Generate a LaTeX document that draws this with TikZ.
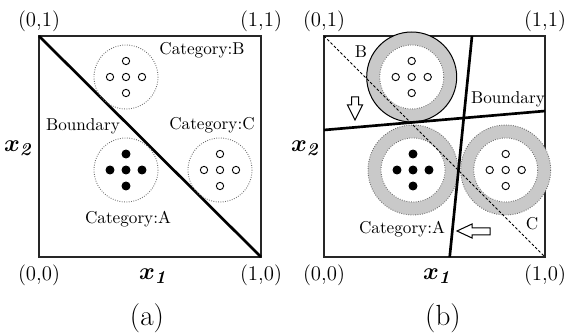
\documentclass[tikz,border=0pt]{standalone}
\usepackage{amsmath,bm}
\usetikzlibrary{positioning,calc}
\definecolor{ringgray}{HTML}{C9C9C9}
\definecolor{dotgray}{HTML}{6E6E6E}

\begin{document}
\begin{tikzpicture}[x=0.6pt,y=-0.6pt,
  frame/.style={line width=0.8pt,draw=black!85},
  bound/.style={line width=1.6pt},
  olddiag/.style={line width=0.6pt,dash pattern=on 1.6pt off 1.2pt},
  zone/.style={draw=dotgray,line width=0.55pt,dash pattern=on 0.5pt off 0.9pt},
  pt/.style={circle,draw,line width=0.55pt,inner sep=0pt,minimum size=4.4pt},
  ptA/.style={pt,fill=black,minimum size=4.8pt},
  lab/.style={font=\fontsize{10.3}{12}\selectfont,inner sep=0pt},
  corner/.style={font=\fontsize{12.5}{14}\selectfont,inner sep=0pt},
  axis/.style={font=\fontsize{15}{18}\selectfont,inner sep=0pt},
  tag/.style={font=\fontsize{17.5}{20}\selectfont,inner sep=0pt},
  hollow/.style={draw,line width=0.6pt,fill=white,line join=miter}]

\useasboundingbox (0,0) rectangle (569,335);

% ---- (a) ----
\coordinate (aTL) at (39,36);
\coordinate (aTR) at (261,36);
\coordinate (aBL) at (39,257);
\coordinate (aBR) at (261,257);
\coordinate (aB) at (126,77);
\coordinate (aA) at (126,170);
\coordinate (aC) at (220,170);
\draw[frame] (aTL) rectangle (aBR);
\draw[bound] (aTL) -- (aBR);
\foreach \c/\s in {aB/pt,aA/ptA,aC/pt}{
  \draw[zone] (\c) circle[radius=32];
  \foreach \dx/\dy/\k in {0/0/o,16/0/e,-16/0/w,0/16/s,0/-16/n}
    \node[\s] (\c\k) at ($(\c)+(\dx,\dy)$) {};
}
\node[lab] (aLB) at (202,50) {Category:B};
\node[lab] (aLC) at (212,125) {Category:C};
\node[lab] (aLA) at (128,219) {Category:A};
\node[lab] (aLbd) at (83,126) {Boundary};

% ---- (b) ----
\coordinate (bTL) at (324,36);
\coordinate (bTR) at (545,36);
\coordinate (bBL) at (324,257);
\coordinate (bBR) at (545,257);
\coordinate (bB) at (411.7,77);
\coordinate (bA) at (413,170);
\coordinate (bC) at (505.7,170);
\draw[frame] (bTL) rectangle (bBR);
\foreach \c in {bB,bA,bC}{
  \fill[ringgray] (\c) circle[radius=45];
}
\foreach \c in {bB,bA,bC}{
  \fill[white] (\c) circle[radius=32];
  \draw[zone] (\c) circle[radius=32];
}
\draw[zone] (bA) circle[radius=45];
\draw[zone] (bC) circle[radius=45];
\draw[line width=0.6pt] (bB) circle[radius=45];
\foreach \c/\s in {bB/pt,bA/ptA,bC/pt}{
  \foreach \dx/\dy/\k in {0/0/o,16/0/e,-16/0/w,0/16/s,0/-16/n}
    \node[\s] (\c\k) at ($(\c)+(\dx,\dy)$) {};
}
\draw[olddiag] (bTL) -- (bBR);
\coordinate (bH1) at (324,130);
\coordinate (bH2) at (545,111);
\coordinate (bV1) at (472,36);
\coordinate (bV2) at (449.7,257);
\draw[bound] (bH1) -- (bH2);
\draw[bound] (bV1) -- (bV2);
\draw[hollow] (351.5,97) -- (358.5,97) -- (358.5,105) -- (362.5,105) -- (355,120)
  -- (347.5,105) -- (351.5,105) -- cycle;
\draw[hollow] (490,228) -- (472,228) -- (472,224) -- (457,231) -- (472,238)
  -- (472,235) -- (490,235) -- cycle;
\node[lab] (bLB) at (361,52) {B};
\node[lab] (bLC) at (532,224) {C};
\node[lab] (bLA) at (402,229) {Category:A};
\node[lab] (bLbd) at (508,99) {Boundary};

% ---- corner and axis labels ----
\foreach \p in {a,b}{
  \node[corner,above=2.2pt of \p TL] (\p01) {(0,1)};
  \node[corner,above=2.2pt of \p TR] (\p11) {(1,1)};
  \node[corner,below=4.5pt of \p BL] (\p00) {(0,0)};
  \node[corner,below=4.5pt of \p BR] (\p10) {(1,0)};
}
\node[axis] (ax1) at (154,276) {$\boldsymbol{x}_{\boldsymbol{\mathit{1}}}$};
\node[axis] (ax2) at (19,148) {$\boldsymbol{x}_{\boldsymbol{\mathit{2}}}$};
\node[axis] (bx1) at (438,276) {$\boldsymbol{x}_{\boldsymbol{\mathit{1}}}$};
\node[axis] (bx2) at (306,148) {$\boldsymbol{x}_{\boldsymbol{\mathit{2}}}$};
\node[tag] (ta) at (147,318) {(a)};
\node[tag] (tb) at (443,318) {(b)};
\end{tikzpicture}
\end{document}
